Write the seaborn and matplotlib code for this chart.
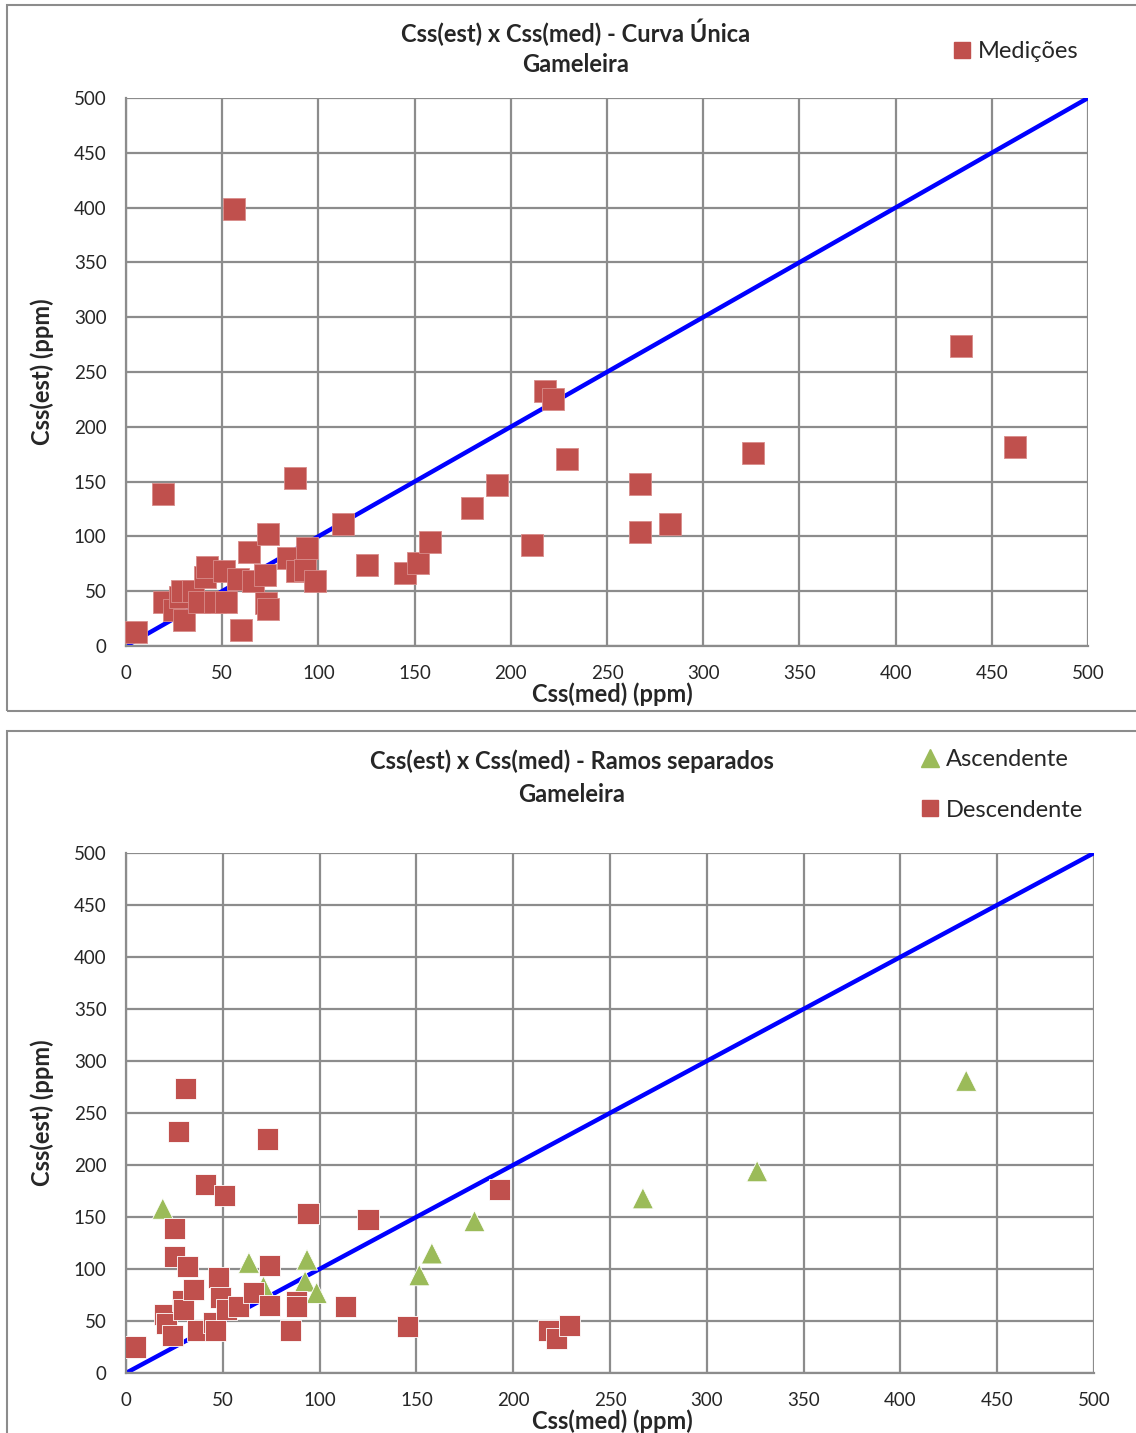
import numpy as np
import pandas as pd
import matplotlib
matplotlib.use("Agg")
import matplotlib.pyplot as plt
import seaborn as sns
from matplotlib.patches import Rectangle
from matplotlib.lines import Line2D

# --- data ---
# top panel: single curve, all measurements
unica_med = [5, 19, 20, 25, 28, 29, 30, 35, 38, 41, 42, 46, 51, 52, 56, 58, 60, 64, 66, 72,
             73, 74, 74, 84, 88, 89, 93, 94, 98, 113, 125, 145, 152, 158, 180, 193, 211,
             218, 222, 229, 267, 267, 283, 326, 434, 462]
unica_est = [13, 139, 40, 33, 45, 50, 24, 50, 40, 63, 72, 40, 68, 40, 399, 61, 15, 86, 59, 65,
             39, 34, 102, 80, 153, 68, 69, 89, 59, 111, 74, 67, 76, 95, 126, 147, 92,
             233, 225, 171, 148, 104, 111, 176, 274, 182]

# bottom panel: separate branches
asc_med = [19, 63.5, 71, 92.5, 93.5, 98.5, 151.5, 158, 180, 267, 326, 434]
asc_est = [158, 106, 83, 88, 109, 77, 94, 115, 146, 168, 194, 281]

desc_med = [5, 20, 21, 24, 25, 25, 27, 29, 29.6, 30.5, 32, 35, 37, 41, 45, 46, 48, 49, 51, 52,
            58, 66, 73, 74, 74, 85, 88, 88, 94, 113.5, 125, 145.5, 193, 218, 222.5, 229]
desc_est = [25, 56, 48, 36, 139, 112, 232, 70, 61, 274, 102, 80, 41, 181, 49, 41, 92, 73, 171, 61,
            64, 77, 225, 103, 65, 41, 69, 64, 153, 64, 148, 45, 176, 41, 33, 46]

diag = [0, 500]
ticks = list(range(0, 501, 50))

RED = "#C0504D"
GREEN = "#9BBB59"
BLUE = "#0000FF"
GRID = "#8C8C8C"

sns.set_style("white")
plt.rcParams["font.family"] = ["Lato", "DejaVu Sans"]

fig = plt.figure(figsize=(11.36, 14.33), dpi=100)
W, H = 1136, 1433


def fx(px):
    return px / W


def fy(py):
    return 1 - py / H


# panel frames
for top, bot in [(5, 711), (731, 1440)]:
    fig.patches.append(Rectangle((fx(7), fy(bot)), fx(1140) - fx(7), fy(top) - fy(bot),
                                 transform=fig.transFigure, fill=False,
                                 edgecolor="#8C8C8C", linewidth=1.5))


def style_axes(ax, left_px, right_px):
    ax.set_xlim(0, 500)
    ax.set_ylim(0, 500)
    ax.set_xticks(ticks)
    ax.set_yticks(ticks)
    ax.grid(True, color=GRID, linewidth=1.6)
    ax.set_axisbelow(True)
    for s in ["top", "right"]:
        ax.spines[s].set_visible(False)
    for s in ["left", "bottom"]:
        ax.spines[s].set_color(GRID)
        ax.spines[s].set_linewidth(1.6)
    ax.tick_params(axis="both", length=5, color=GRID, width=1.2, labelsize=13.5, pad=9)
    ax.set_xlabel("Css(med) (ppm)", fontsize=17, fontweight="bold", labelpad=0)
    # reference label sits a little right of the axes centre
    ax.xaxis.set_label_coords((612 - left_px) / (right_px - left_px), 0, transform=None)
    ax.xaxis.label.set_x((612 - left_px) / (right_px - left_px))
    ax.set_ylabel("Css(est) (ppm)", fontsize=17, fontweight="bold", labelpad=14)


# ---------- top chart ----------
ax1 = fig.add_axes([fx(126), fy(646), fx(1088) - fx(126), fy(98) - fy(646)])
df1 = pd.DataFrame({"med": unica_med, "est": unica_est})
sns.lineplot(x=diag, y=diag, ax=ax1, color=BLUE, linewidth=3.2, zorder=2)
sns.scatterplot(data=df1, x="med", y="est", ax=ax1, marker="s", s=230, color=RED,
                edgecolor="#D98C8A", linewidth=0.6, zorder=3, legend=False, clip_on=False)
ax1.set_xlim(0, 500)
ax1.set_ylim(0, 500)
ax1.set_xticks(ticks)
ax1.set_yticks(ticks)
ax1.grid(True, color=GRID, linewidth=1.6)
ax1.set_axisbelow(True)
for s in ["top", "right"]:
    ax1.spines[s].set_visible(False)
for s in ["left", "bottom"]:
    ax1.spines[s].set_color(GRID)
    ax1.spines[s].set_linewidth(1.6)
ax1.tick_params(axis="both", length=5, color=GRID, width=1.2, labelsize=13.5, pad=9)
ax1.set_xlabel("Css(med) (ppm)", fontsize=17, fontweight="bold", labelpad=0)
ax1.xaxis.label.set_x((612 - 126) / (1088 - 126))
ax1.set_ylabel("Css(est) (ppm)", fontsize=17, fontweight="bold", labelpad=14)
fig.text(fx(576), fy(32), "Css(est) x Css(med) - Curva Única", ha="center", va="center",
         fontsize=17, fontweight="bold")
fig.text(fx(576), fy(65), "Gameleira", ha="center", va="center", fontsize=17, fontweight="bold")
h_med = Line2D([], [], marker="s", linestyle="none", markersize=12, color=RED, label="Medições")
fig.legend(handles=[h_med], loc="center left", bbox_to_anchor=(fx(950), fy(52)), frameon=False,
           fontsize=17, handlelength=1.0, handletextpad=0.2, borderaxespad=0, borderpad=0)

# ---------- bottom chart ----------
ax2 = fig.add_axes([fx(126), fy(1373), fx(1094) - fx(126), fy(853) - fy(1373)])
df2 = pd.DataFrame({
    "med": asc_med + desc_med,
    "est": asc_est + desc_est,
    "ramo": ["Ascendente"] * len(asc_med) + ["Descendente"] * len(desc_med),
})
sns.lineplot(x=diag, y=diag, ax=ax2, color=BLUE, linewidth=3.2, zorder=2)
sns.scatterplot(data=df2, x="med", y="est", hue="ramo", style="ramo", ax=ax2,
                palette={"Ascendente": GREEN, "Descendente": RED},
                markers={"Ascendente": "^", "Descendente": "s"},
                s=230, linewidth=0.6, edgecolor="white", zorder=3, legend=False)
ax2.set_xlim(0, 500)
ax2.set_ylim(0, 500)
ax2.set_xticks(ticks)
ax2.set_yticks(ticks)
ax2.grid(True, color=GRID, linewidth=1.6)
ax2.set_axisbelow(True)
for s in ["top", "right"]:
    ax2.spines[s].set_visible(False)
for s in ["left", "bottom"]:
    ax2.spines[s].set_color(GRID)
    ax2.spines[s].set_linewidth(1.6)
ax2.tick_params(axis="both", length=5, color=GRID, width=1.2, labelsize=13.5, pad=9)
ax2.set_xlabel("Css(med) (ppm)", fontsize=17, fontweight="bold", labelpad=0)
ax2.xaxis.label.set_x((612 - 126) / (1094 - 126))
ax2.set_ylabel("Css(est) (ppm)", fontsize=17, fontweight="bold", labelpad=14)
fig.text(fx(572), fy(761), "Css(est) x Css(med) - Ramos separados", ha="center", va="center",
         fontsize=17, fontweight="bold")
fig.text(fx(572), fy(794), "Gameleira", ha="center", va="center", fontsize=17, fontweight="bold")
h_asc = Line2D([], [], marker="^", linestyle="none", markersize=13, color=GREEN, label="Ascendente")
h_desc = Line2D([], [], marker="s", linestyle="none", markersize=12, color=RED, label="Descendente")
fig.legend(handles=[h_asc, h_desc], loc="upper left", bbox_to_anchor=(fx(918), fy(749)),
           frameon=False, fontsize=17, handlelength=1.0, handletextpad=0.2, labelspacing=1.25,
           borderaxespad=0, borderpad=0)

fig.savefig("out.png", dpi=100)
